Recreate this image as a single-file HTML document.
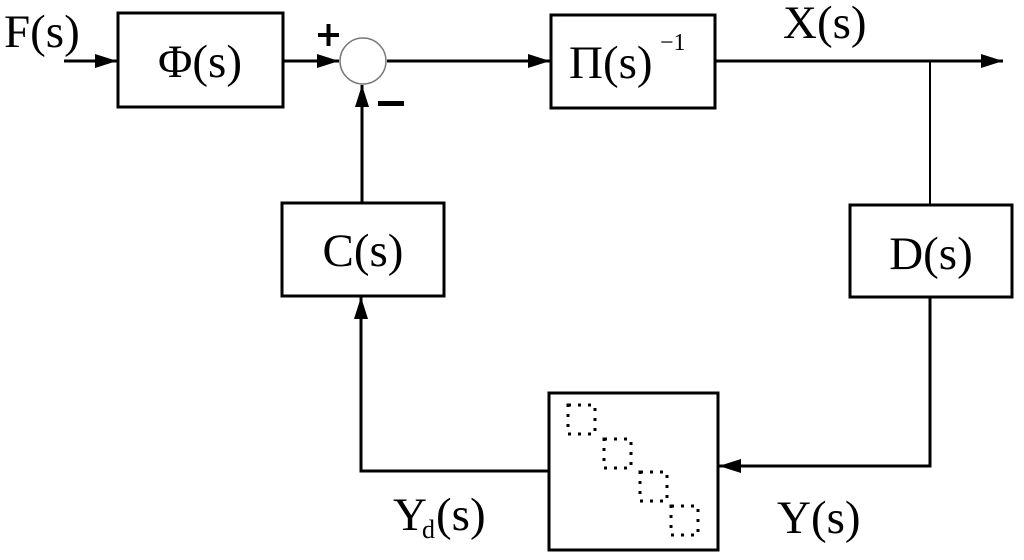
<!DOCTYPE html>
<html><head><style>body{margin:0;background:#fff}svg{display:block}text{font-family:"Liberation Serif",serif;fill:#000}</style></head>
<body>
<svg width="1024" height="560" viewBox="0 0 1024 560" xmlns="http://www.w3.org/2000/svg">
<defs><marker id="a" markerWidth="24" markerHeight="14" refX="22" refY="7" orient="auto" markerUnits="userSpaceOnUse"><path d="M0,0 L22,7 L0,14 Z" fill="#000"/></marker></defs>
<g fill="none" stroke="#000" stroke-width="3">
<rect x="118" y="13" width="165" height="94"/>
<rect x="551" y="15" width="164" height="93"/>
<rect x="282" y="203" width="162" height="93"/>
<rect x="850" y="205" width="162" height="92"/>
<rect x="549" y="393" width="169" height="157"/>
<line x1="64" y1="61" x2="117" y2="61" marker-end="url(#a)"/>
<line x1="283" y1="61" x2="339" y2="61" marker-end="url(#a)"/>
<line x1="387" y1="61" x2="550" y2="61" marker-end="url(#a)"/>
<line x1="715" y1="61" x2="1003" y2="61" marker-end="url(#a)"/>
<line x1="930" y1="61" x2="930" y2="205" stroke-width="2"/>
<polyline points="930,297 930,466 719,466" marker-end="url(#a)"/>
<polyline points="549,471 361,471 361,297" marker-end="url(#a)"/>
<line x1="362" y1="203" x2="362" y2="85" marker-end="url(#a)"/>
</g>
<circle cx="363" cy="61" r="23" fill="#fff" stroke="#777" stroke-width="1.5"/>
<g fill="none" stroke="#000" stroke-width="3" stroke-dasharray="3,7">
<rect x="568" y="405" width="27" height="29"/>
<rect x="604" y="439" width="27" height="29"/>
<rect x="640" y="472" width="27" height="29"/>
<rect x="671" y="506" width="27" height="29"/>
</g>
<text x="4" y="47" font-size="47">F(s)</text>
<text x="200" y="77" font-size="47" text-anchor="middle">Φ(s)</text>
<rect x="318" y="33" width="21" height="4" fill="#000"/>
<rect x="326.5" y="24" width="4" height="22" fill="#000"/>
<rect x="378" y="101" width="26" height="5" fill="#000"/>
<text x="569" y="78" font-size="47">Π(s)</text>
<text x="660" y="50" font-size="24">−1</text>
<text x="783" y="38" font-size="47">X(s)</text>
<text x="363" y="266" font-size="47" text-anchor="middle">C(s)</text>
<text x="931" y="269" font-size="47" text-anchor="middle">D(s)</text>
<text x="393" y="530" font-size="47">Y</text>
<text x="422" y="538" font-size="26">d</text>
<text x="436" y="530" font-size="47">(s)</text>
<text x="777" y="533" font-size="47">Y(s)</text>
</svg>
</body></html>
